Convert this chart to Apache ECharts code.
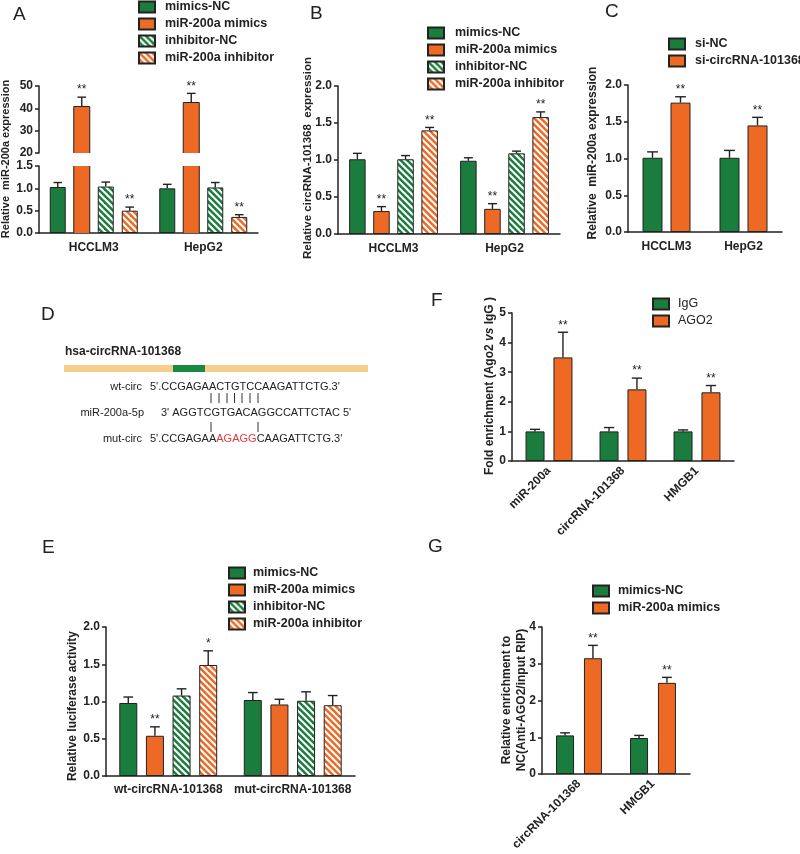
<!DOCTYPE html>
<html><head><meta charset="utf-8">
<script src="https://cdn.jsdelivr.net/npm/echarts@6/dist/echarts.min.js"></script>
<style>html,body{margin:0;padding:0;background:#fff}#c{width:800px;height:854px}</style>
</head><body><div id="c"></div>
<script>
// ---------- data ----------
const catsCells = ['HCCLM3', 'HepG2'];
const catsLuc = ['wt-circRNA-101368', 'mut-circRNA-101368'];
const catsRipF = ['miR-200a', 'circRNA-101368', 'HMGB1'];
const catsRipG = ['circRNA-101368', 'HMGB1'];

const groups4 = ['mimics-NC', 'miR-200a mimics', 'inhibitor-NC', 'miR-200a inhibitor'];
const groupsC = ['si-NC', 'si-circRNA-101368'];
const groupsF = ['IgG', 'AGO2'];
const groupsG = ['mimics-NC', 'miR-200a mimics'];

// Panel A (broken axis)
const aMean = [[1.03, 1.00], [40.8, 42.6], [1.04, 1.02], [0.50, 0.36]];
const aTop = [[1.13, 1.09], [45.0, 46.7], [1.14, 1.13], [0.58, 0.41]];
const aStars = [['', ''], ['**', '**'], ['', ''], ['**', '**']];
// Panel B
const bMean = [[1.01, 0.99], [0.31, 0.34], [1.01, 1.09], [1.40, 1.58]];
const bTop = [[1.09, 1.03], [0.37, 0.41], [1.06, 1.12], [1.44, 1.65]];
const bStars = [['', ''], ['**', '**'], ['', ''], ['**', '**']];
// Panel C
const cMean = [[1.01, 1.01], [1.76, 1.45]];
const cTop = [[1.09, 1.11], [1.84, 1.56]];
const cStars = [['', ''], ['**', '**']];
// Panel E
const eMean = [[0.98, 1.02], [0.54, 0.96], [1.08, 1.01], [1.49, 0.95]];
const eTop = [[1.06, 1.12], [0.66, 1.03], [1.17, 1.13], [1.68, 1.08]];
const eStars = [['', ''], ['**', ''], ['', ''], ['*', '']];
// Panel F
const fMean = [[1.0, 1.0, 1.0], [3.5, 2.42, 2.32]];
const fTop = [[1.07, 1.13, 1.05], [4.35, 2.80, 2.55]];
const fStars = [['', '', ''], ['**', '**', '**']];
// Panel G
const gMean = [[1.05, 0.98], [3.15, 2.48]];
const gTop = [[1.12, 1.05], [3.50, 2.63]];
const gStars = [['', ''], ['**', '**']];

// ---------- style ----------
const FONT = 'Liberation Sans, Arial, sans-serif';
const GREEN = '#1b7d3d', ORANGE = '#ee6a24', INK = '#222';

function hatch(color) {
  const s = 6.5, c = document.createElement('canvas');
  c.width = 13; c.height = 13;
  const ctx = c.getContext('2d');
  ctx.fillStyle = '#fff'; ctx.fillRect(0, 0, 13, 13);
  ctx.strokeStyle = color; ctx.lineWidth = 2.5;
  for (let k = -3; k <= 3; k++) {
    ctx.beginPath(); ctx.moveTo(k * s - 13, -13); ctx.lineTo(k * s + 26, 26); ctx.stroke();
  }
  return { image: c, repeat: 'repeat' };
}
const fills4 = [GREEN, ORANGE, hatch(GREEN), hatch(ORANGE)];
const fills2 = [GREEN, ORANGE];

const option = { animation: false, grid: [], xAxis: [], yAxis: [], series: [], legend: [], graphic: [] };

function seg(x1, y1, x2, y2, w) {
  return { type: 'line', shape: { x1: x1, y1: y1, x2: x2, y2: y2 }, style: { stroke: INK, lineWidth: w } };
}

function addPanel(p) {
  const gi = option.grid.length;
  option.grid.push({ left: p.gx, top: p.gy, width: p.gw, height: p.gh, containLabel: false });
  option.xAxis.push({
    type: 'category', gridIndex: gi, data: p.cats, show: !p.hideX,
    axisLine: { lineStyle: { color: INK, width: 1.5 } },
    axisTick: { alignWithLabel: true, length: 4, lineStyle: { color: INK, width: 1.5 } },
    axisLabel: { interval: 0, rotate: p.rotate || 0, margin: p.xMargin || 9, color: INK, fontFamily: FONT, fontWeight: 'bold', fontSize: 12 },
    splitLine: { show: false }
  });
  option.yAxis.push({
    type: 'value', gridIndex: gi, min: p.yMin, max: p.yMax, interval: p.yInt,
    axisLine: { show: true, lineStyle: { color: INK, width: 1.5 } },
    axisTick: { show: true, length: 4, lineStyle: { color: INK, width: 1.5 } },
    axisLabel: { margin: 6, color: INK, fontFamily: FONT, fontWeight: 'bold', fontSize: 12, formatter: v => v.toFixed(p.dec) },
    splitLine: { show: false }
  });
  const n = p.names.length;
  const step = p.barWidth * (1 + p.gap);
  const isClipped = v => v > p.yMax || (p.yMin > 0 && v >= p.yMin);
  p.names.forEach((nm, i) => {
    option.series.push({
      type: 'bar', name: nm, xAxisIndex: gi, yAxisIndex: gi, silent: true,
      data: p.mean[i].map(v => (p.yMin > 0 && v < p.yMin) ? '-' : (isClipped(v) ? { value: v, itemStyle: { borderWidth: 0 } } : v)),
      barWidth: p.barWidth, barGap: (p.gap * 100) + '%',
      itemStyle: { color: p.fills[i], borderColor: INK, borderWidth: 1 }
    });
  });
  const errData = [];
  p.mean.forEach((arr, i) => arr.forEach((v, j) => errData.push([j, v, p.hi[i][j], i])));
  option.series.push({
    type: 'custom', name: 'err' + gi, xAxisIndex: gi, yAxisIndex: gi, silent: true, z: 5,
    data: errData, encode: { x: 0, y: [1, 2] },
    renderItem: (params, api) => {
      const j = api.value(0), mean = api.value(1), top = api.value(2), i = api.value(3);
      if (p.yMin > 0 && mean < p.yMin) return null;
      const off = (i - (n - 1) / 2) * step;
      const a = api.coord([j, Math.min(mean, p.yMax)]);
      const x = a[0] + off, half = p.barWidth / 2, hw = p.barWidth * 0.27;
      const kids = [];
      if (isClipped(mean)) {
        // outline of a bar that runs through the axis break: sides only, open at the break
        const y0 = api.coord([j, p.yMin])[1];
        kids.push(seg(x - half, y0, x - half, a[1], 1), seg(x + half, y0, x + half, a[1], 1));
        if (mean <= p.yMax) kids.push(seg(x - half, a[1], x + half, a[1], 1));
      }
      if (mean <= p.yMax) {
        const b = api.coord([j, top]);
        kids.push(seg(x, a[1], x, b[1], 1.4), seg(x - hw, b[1], x + hw, b[1], 1.4));
        const st = p.stars[i][j];
        if (st) kids.push({ type: 'text', x: x, y: b[1] - 1, style: { text: st, fill: INK, fontFamily: FONT, fontSize: 12, align: 'center', verticalAlign: 'bottom' } });
      }
      return { type: 'group', children: kids };
    }
  });
  return gi;
}

function addLegend(names, left, top, bold, gapText) {
  option.legend.push({
    data: names, left: left, top: top, orient: 'vertical', icon: 'rect', padding: 0,
    itemWidth: 16, itemHeight: 11, itemGap: 4, selectedMode: false,
    textStyle: { color: INK, fontFamily: FONT, fontSize: 12.5, fontWeight: bold ? 'bold' : 'normal', lineHeight: 11, padding: [0, 0, 0, gapText] }
  });
}

// Panel A: lower + upper segments of the broken axis
addPanel({ gx: 39, gy: 166, gw: 219, gh: 67, cats: catsCells, names: groups4, fills: fills4,
  mean: aMean, hi: aTop, stars: aStars, yMin: 0, yMax: 1.5, yInt: 0.5, dec: 1, barWidth: 16, gap: 0.5 });
addPanel({ gx: 39, gy: 86, gw: 219, gh: 67, cats: catsCells, names: groups4, fills: fills4, hideX: true,
  mean: aMean, hi: aTop, stars: aStars, yMin: 20, yMax: 50, yInt: 10, dec: 0, barWidth: 16, gap: 0.5 });
// Panel B
addPanel({ gx: 338, gy: 86, gw: 222, gh: 148, cats: catsCells, names: groups4, fills: fills4,
  mean: bMean, hi: bTop, stars: bStars, yMin: 0, yMax: 2, yInt: 0.5, dec: 1, barWidth: 16.5, gap: 0.46 });
// Panel C
addPanel({ gx: 628, gy: 85, gw: 154, gh: 147, cats: catsCells, names: groupsC, fills: fills2,
  mean: cMean, hi: cTop, stars: cStars, yMin: 0, yMax: 2, yInt: 0.5, dec: 1, barWidth: 20, gap: 0.4 });
// Panel E
addPanel({ gx: 106, gy: 627, gw: 249, gh: 149, cats: catsLuc, names: groups4, fills: fills4,
  mean: eMean, hi: eTop, stars: eStars, yMin: 0, yMax: 2, yInt: 0.5, dec: 1, barWidth: 18, gap: 0.48, xMargin: 8 });
// Panel F
addPanel({ gx: 512, gy: 313, gw: 222, gh: 148, cats: catsRipF, names: groupsF, fills: fills2,
  mean: fMean, hi: fTop, stars: fStars, yMin: 0, yMax: 5, yInt: 1, dec: 0, barWidth: 19, gap: 0.47, rotate: 45, xMargin: 8 });
// Panel G
addPanel({ gx: 542, gy: 627, gw: 148, gh: 147, cats: catsRipG, names: groupsG, fills: fills2,
  mean: gMean, hi: gTop, stars: gStars, yMin: 0, yMax: 4, yInt: 1, dec: 0, barWidth: 18, gap: 0.55, rotate: 45, xMargin: 8 });

addLegend(groups4, 138, 0.5, true, 5);
addLegend(groups4, 427, 26.5, true, 6);
addLegend(groupsC, 668, 37.5, true, 5);
addLegend(groups4, 228, 566.5, true, 3);
addLegend(groupsF, 652, 297.5, false, 4);
addLegend(groupsG, 592, 584.5, true, 4);

// ---------- texts ----------
const G = option.graphic;
function txt(t, x, y, o) {
  G.push(Object.assign({ type: 'text', x: x, y: y, silent: true,
    style: Object.assign({ text: t, fill: INK, fontFamily: FONT, fontSize: 12, align: 'left', verticalAlign: 'middle' }, o && o.style) },
    o && o.el));
}
const R90 = Math.PI / 2;
[['A', 13, 15], ['B', 310, 14], ['C', 605, 12], ['D', 41, 315], ['E', 42, 548], ['F', 431, 301], ['G', 428, 547]]
  .forEach(l => txt(l[0], l[1], l[2], { style: { fontSize: 19 } }));
const ttl = (t, x, y, size) => txt(t, x, y, { style: { fontWeight: 'bold', fontSize: size || 12, align: 'center' }, el: { rotation: R90 } });
ttl('Relative  miR-200a expression', 6, 159, 11);
ttl('Relative circRNA-101368  expression', 308, 158, 11.5);
ttl('Relative  miR-200a expression', 593, 153, 12);
ttl('Relative luciferase activity', 73, 706, 12);
G.push({ type: 'text', x: 490, y: 386, rotation: R90, silent: true,
  style: { text: '{b|Fold enrichment (Ago2 }{i|vs}{b| IgG )}', align: 'center', verticalAlign: 'middle',
    rich: { b: { fill: INK, fontFamily: FONT, fontWeight: 'bold', fontSize: 12 }, i: { fill: INK, fontFamily: FONT, fontWeight: 'bold', fontStyle: 'italic', fontSize: 12 } } } });
ttl('Relative enrichment to', 507, 700, 12);
ttl('NC(Anti-AGO2/input RIP)', 522, 700, 12);

// Panel D schematic
txt('hsa-circRNA-101368', 65, 352, { style: { fontWeight: 'bold', fontSize: 12 } });
G.push({ type: 'rect', silent: true, shape: { x: 64, y: 365, width: 304, height: 7 }, style: { fill: '#f6cd8c' } });
G.push({ type: 'rect', silent: true, shape: { x: 173, y: 365, width: 32, height: 7 }, style: { fill: '#1b8a41' } });
const seqStyle = { fontSize: 11 };
txt('wt-circ', 142, 387, { style: { fontSize: 11, align: 'right' } });
txt("5'.CCGAGAACTGTCCAAGATTCTG.3'", 150, 387, { style: seqStyle });
txt('miR-200a-5p', 144, 413, { style: { fontSize: 11, align: 'right' } });
txt("3' AGGTCGTGACAGGCCATTCTAC 5'", 161, 413, { style: seqStyle });
txt('mut-circ', 142, 439, { style: { fontSize: 11, align: 'right' } });
G.push({ type: 'text', x: 150, y: 439, silent: true,
  style: { text: "{n|5'.CCGAGAA}{r|AGAGG}{n|CAAGATTCTG.3'}", verticalAlign: 'middle',
    rich: { n: { fill: INK, fontFamily: FONT, fontSize: 11 }, r: { fill: '#e03b3b', fontFamily: FONT, fontSize: 11 } } } });
[211, 219, 227, 234.5, 242, 250, 258].forEach(x =>
  G.push({ type: 'line', silent: true, shape: { x1: x, y1: 393, x2: x, y2: 403 }, style: { stroke: '#333', lineWidth: 1 } }));
[211, 258].forEach(x =>
  G.push({ type: 'line', silent: true, shape: { x1: x, y1: 422, x2: x, y2: 432 }, style: { stroke: '#333', lineWidth: 1 } }));

const chart = echarts.init(document.getElementById('c'), null, { renderer: 'canvas' });
chart.setOption(option);
</script></body></html>
